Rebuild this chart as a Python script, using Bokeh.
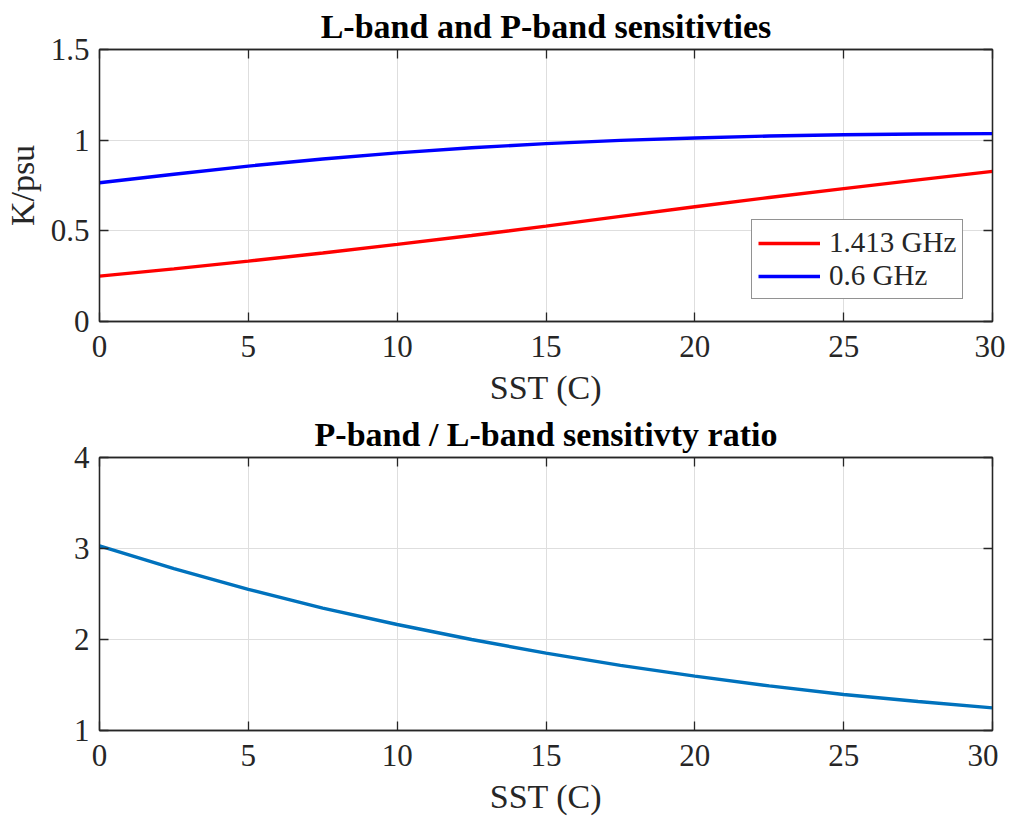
from bokeh.plotting import figure
from bokeh.layouts import column
from bokeh.models import (FixedTicker, CustomJSTickFormatter, LinearAxis, Legend,
                          LegendItem, Range1d)
from bokeh.embed import file_html
from bokeh.resources import INLINE

# ---- data ----
sst = [0, 2.5, 5, 7.5, 10, 12.5, 15, 17.5, 20, 22.5, 25, 27.5, 30]
l_band = [0.25, 0.29, 0.333, 0.378, 0.425, 0.474, 0.526, 0.580, 0.633, 0.684, 0.733, 0.781, 0.828]
p_band = [0.765, 0.812, 0.857, 0.896, 0.930, 0.958, 0.981, 0.999, 1.012, 1.023, 1.030, 1.034, 1.036]
ratio = [3.03, 2.78, 2.55, 2.345, 2.165, 2.0, 1.85, 1.715, 1.597, 1.49, 1.396, 1.318, 1.249]

x_ticks = [0, 5, 10, 15, 20, 25, 30]
y_ticks_top = [0, 0.5, 1, 1.5]
y_ticks_bot = [1, 2, 3, 4]

title_top = "L-band and P-band sensitivties"
title_bot = "P-band / L-band sensitivty ratio"
xlabel = "SST (C)"
ylabel_top = "K/psu"
legend_labels = ["1.413 GHz", "0.6 GHz"]

FONT = "Liberation Serif"
AX = "#262626"
GRID = "#dedede"

fmt = CustomJSTickFormatter(code="return tick.toString();")
blank = CustomJSTickFormatter(code="return '';")


def style(p, yt):
    p.x_range = Range1d(0, 30)
    p.title.text_font = FONT
    p.title.text_font_size = "34px"
    p.title.text_font_style = "bold"
    p.title.text_color = "black"
    p.title.align = "center"
    p.outline_line_color = AX
    p.outline_line_width = 1.3
    p.outline_line_alpha = 1
    for ax in p.xaxis + p.yaxis:
        ax.major_tick_in = 9
        ax.major_tick_out = 0
        ax.minor_tick_line_color = None
        ax.major_tick_line_color = AX
        ax.major_tick_line_width = 1.3
        ax.axis_line_color = AX
        ax.axis_line_width = 1.3
        ax.major_label_text_font = FONT
        ax.major_label_text_font_size = "31px"
        ax.major_label_text_color = AX
        ax.axis_label_text_font = FONT
        ax.axis_label_text_font_size = "34px"
        ax.axis_label_text_font_style = "normal"
        ax.axis_label_text_color = AX
        ax.formatter = fmt
    p.xaxis.ticker = FixedTicker(ticks=x_ticks)
    p.yaxis.ticker = FixedTicker(ticks=yt)
    p.xaxis.major_label_standoff = 14
    p.yaxis.major_label_standoff = 10
    p.xaxis.axis_label = xlabel
    p.xaxis.axis_label_standoff = 9
    # mirrored ticks on top and right
    top = LinearAxis(ticker=FixedTicker(ticks=x_ticks), formatter=blank,
                     major_tick_in=9, major_tick_out=0, major_tick_line_color=AX,
                     major_tick_line_width=1.3, minor_tick_line_color=None,
                     axis_line_color=AX, axis_line_width=1.3,
                     major_label_text_font_size="0px", major_label_standoff=0)
    right = LinearAxis(ticker=FixedTicker(ticks=yt), formatter=blank,
                       major_tick_in=9, major_tick_out=0, major_tick_line_color=AX,
                       major_tick_line_width=1.3, minor_tick_line_color=None,
                       axis_line_color=AX, axis_line_width=1.3,
                       major_label_text_font_size="0px", major_label_standoff=0)
    p.add_layout(top, "above")
    p.add_layout(right, "right")
    p.xgrid.ticker = FixedTicker(ticks=x_ticks)
    p.ygrid.ticker = FixedTicker(ticks=yt)
    p.grid.grid_line_color = GRID
    p.grid.grid_line_width = 1
    p.background_fill_color = "white"
    p.border_fill_color = "white"


# ---- top figure ----
p1 = figure(frame_width=893, frame_height=272, output_backend="svg",
            toolbar_location=None, title=title_top,
            min_border_left=92, min_border_right=13, min_border_top=43,
            min_border_bottom=87)
p1.y_range = Range1d(0, 1.5)
style(p1, y_ticks_top)
p1.yaxis[0].axis_label = ylabel_top
p1.yaxis[0].axis_label_standoff = 7
p1.yaxis[0].major_label_standoff = 10

r1 = p1.line(sst, l_band, line_color="#ff0000", line_width=3.4)
r2 = p1.line(sst, p_band, line_color="#0000ff", line_width=3.4)

legend = Legend(items=[LegendItem(label=legend_labels[0], renderers=[r1]),
                       LegendItem(label=legend_labels[1], renderers=[r2])],
                location=(652, 22), label_text_font=FONT,
                label_text_font_size="29px", label_text_color=AX,
                glyph_width=62, glyph_height=28, label_height=28,
                label_standoff=9, padding=6, spacing=0, margin=0,
                border_line_color=AX, border_line_width=1.2,
                background_fill_color="white", background_fill_alpha=1)
p1.add_layout(legend)

# ---- bottom figure ----
p2 = figure(frame_width=893, frame_height=273, output_backend="svg",
            toolbar_location=None, title=title_bot,
            min_border_left=92, min_border_right=13, min_border_top=49,
            min_border_bottom=85)
p2.y_range = Range1d(1, 4)
style(p2, y_ticks_bot)
p2.line(sst, ratio, line_color="#0072BD", line_width=3.4)

layout = column(p1, p2, spacing=0)
open("out.html", "w").write(file_html(layout, INLINE))
